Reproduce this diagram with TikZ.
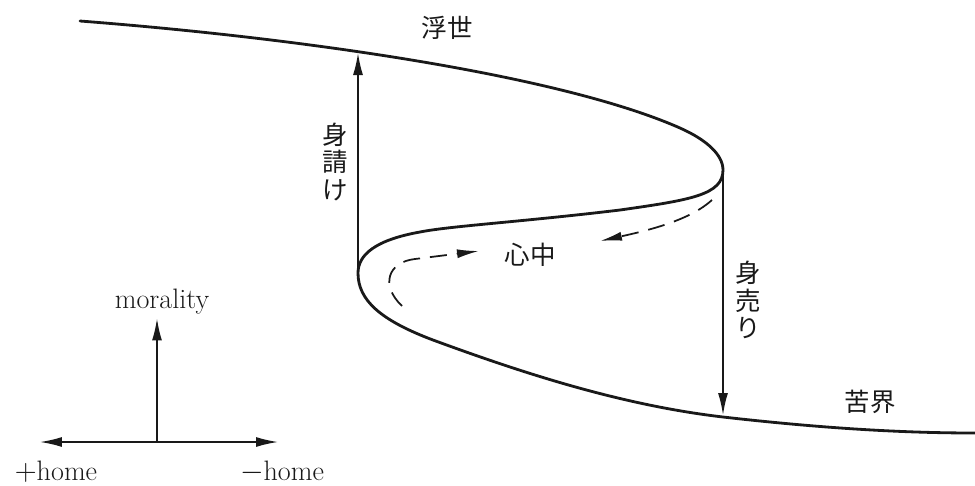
\documentclass[tikz,border=0pt]{standalone}
\usepackage{fontspec}
\usepackage{tikz}
\usetikzlibrary{arrows.meta, positioning, calc}
\newfontfamily\jpfont{Noto Sans CJK JP}
\definecolor{inkblack}{RGB}{25, 25, 25}
\tikzset{
  foldline/.style={line width=1.6pt, color=inkblack, line cap=round},
  arrow/.style={-{Latex[length=4.4mm, width=2mm]}, line width=0.9pt, color=inkblack},
  dasharrow/.style={-{Latex[length=4.4mm, width=1.8mm]}, line width=1pt,
              dash pattern=on 3.4mm off 2mm, color=inkblack},
  jplabel/.style={font=\jpfont\fontsize{14.5}{15.5}\selectfont, color=inkblack,
              align=center, inner sep=0pt},
  axislabel/.style={font=\fontsize{16}{19}\selectfont, color=inkblack, inner sep=2pt},
}

\begin{document}
\begin{tikzpicture}[x=0.02cm, y=-0.02cm]
  \useasboundingbox (0,0) rectangle (975,485);

  % folded curve
  \coordinate (leftfold)  at (358,273);
  \coordinate (rightfold) at (723,170);
  \coordinate (topcross)  at (358,53);
  \coordinate (botcross)  at (723,415);
  \draw[foldline] (80,21) .. controls (300,38) and (560,75) .. (680,128)
        .. controls (707,140) and (723,155) .. (rightfold)
        .. controls (723,195) and (690,200) .. (620,210)
        .. controls (520,222) and (450,226) .. (420,232)
        .. controls (375,240) and (358,255) .. (leftfold)
        .. controls (358,300) and (380,320) .. (433,340)
        .. controls (520,372) and (620,405) .. (723,417)
        .. controls (820,428) and (900,433) .. (975,433);

  % jumps between the sheets
  \draw[arrow] (leftfold) -- (topcross);
  \draw[arrow] (rightfold) -- (botcross);

  % labels
  \node[jplabel] (ukiyo) at (447,28) {浮世};
  \node[jplabel] (kugai) at (870,402) {苦界};
  \node[jplabel] (shinju) at (530,255) {心中};
  \node[jplabel] (miuke) at (335,162) {身\\請\\け};
  \node[jplabel] (miuri) at (748,300) {身\\売\\り};

  % dashed paths toward shinju
  \coordinate (dashAstart) at (712,200);
  \coordinate (dashAend)   at (600,241);
  \coordinate (dashBstart) at (402,306);
  \coordinate (dashBend)   at (479,251);
  \draw[dasharrow] (dashAstart) .. controls (690,220) and (650,230) .. (dashAend);
  \draw[dasharrow] (dashBstart) .. controls (380,285) and (388,262) .. (415,259)
        -- (dashBend);

  % axes
  \coordinate (origin) at (157,442);
  \node[axislabel] (morality) at (162,302) {morality};
  \node[axislabel] (plushome) at (56,472) {$+$home};
  \node[axislabel] (minushome) at (282,472) {$-$home};
  \draw[arrow] (origin) -- (origin |- morality.south);
  \draw[arrow] (origin) -- (40,442);
  \draw[arrow] (origin) -- (278,442);
\end{tikzpicture}
\end{document}
